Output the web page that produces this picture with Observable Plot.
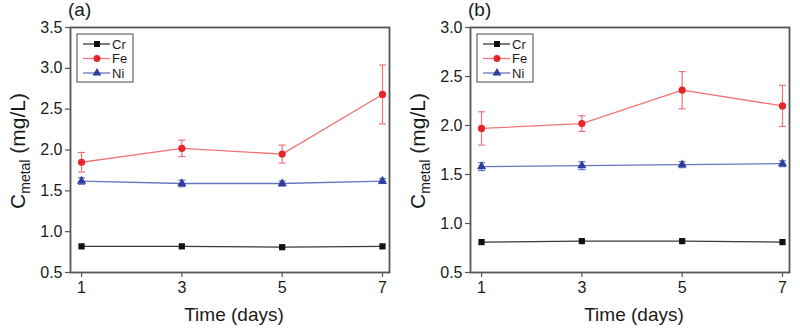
<!DOCTYPE html>
<html><head><meta charset="utf-8">
<script src="https://cdn.jsdelivr.net/npm/d3@7"></script>
<script src="https://cdn.jsdelivr.net/npm/@observablehq/plot@0.6"></script>
<style>
body{margin:0;background:#fff;}
#wrap{display:flex;width:800px;height:334px;}
#wrap svg{display:block;}
</style></head><body><div id="wrap"></div>
<script>
const days = [1, 3, 5, 7];
const metals = ["Cr", "Fe", "Ni"];
const panelLabels = ["(a)", "(b)"];
const xTicks = [1, 3, 5, 7];
const aTicks = [0.5, 1.0, 1.5, 2.0, 2.5, 3.0, 3.5];
const bTicks = [0.5, 1.0, 1.5, 2.0, 2.5, 3.0];

const a_Cr = [0.82, 0.82, 0.81, 0.82];
const a_CrErr = [0, 0, 0, 0];
const a_Fe = [1.85, 2.02, 1.95, 2.68];
const a_FeErr = [0.12, 0.10, 0.11, 0.36];
const a_Ni = [1.62, 1.59, 1.59, 1.62];
const a_NiErr = [0.04, 0.04, 0.03, 0.03];

const b_Cr = [0.81, 0.82, 0.82, 0.81];
const b_CrErr = [0, 0, 0, 0];
const b_Fe = [1.97, 2.02, 2.36, 2.20];
const b_FeErr = [0.17, 0.08, 0.19, 0.21];
const b_Ni = [1.58, 1.59, 1.60, 1.61];
const b_NiErr = [0.04, 0.04, 0.03, 0.03];

const style = {
  Cr: {mark: "#111111", line: "#3a3a3a", symbol: "square", r: 3.5},
  Fe: {mark: "#e8242a", line: "#f07474", symbol: "circle", r: 3.6},
  Ni: {mark: "#2c3f9e", line: "#6675c2", symbol: "triangle", r: 3.4}
};

const capSymbol = {draw(ctx, size) { ctx.moveTo(-3.5, 0); ctx.lineTo(3.5, 0); }};

function rows(vals, errs) {
  const out = [];
  metals.forEach((m, i) => days.forEach((d, j) => out.push({metal: m, day: d, v: vals[i][j], e: errs[i][j]})));
  return out;
}

const FONT = "'Liberation Sans', Arial, sans-serif";

function panel(data, yDomain, yTicks, label) {
  const err = data.filter(d => d.e > 0);
  const plot = Plot.plot({
    width: 400, height: 334,
    marginLeft: 70, marginRight: 11, marginTop: 27, marginBottom: 62,
    style: {fontFamily: FONT, fontSize: "16px", color: "#1a1a1a", background: "#fff"},
    x: {domain: [0.78, 7.14], ticks: xTicks, tickFormat: d => d, tickSize: 5, tickPadding: 4, label: null},
    y: {domain: yDomain, ticks: yTicks, tickFormat: d3.format(".1f"), tickSize: 5, tickPadding: 3, label: null},
    marks: [
      Plot.ruleX(err, {x: "day", y1: d => d.v - d.e, y2: d => d.v + d.e, stroke: d => style[d.metal].line, strokeWidth: 1.2}),
      Plot.dot(err, {x: "day", y: d => d.v + d.e, symbol: capSymbol, stroke: d => style[d.metal].line, strokeWidth: 1.2}),
      Plot.dot(err, {x: "day", y: d => d.v - d.e, symbol: capSymbol, stroke: d => style[d.metal].line, strokeWidth: 1.2}),
      ...metals.map(m => Plot.line(data.filter(d => d.metal === m), {x: "day", y: "v", stroke: style[m].line, strokeWidth: 1.3})),
      ...metals.map(m => Plot.dot(data.filter(d => d.metal === m), {x: "day", y: "v", symbol: style[m].symbol, r: style[m].r, fill: style[m].mark, stroke: "none"})),
      Plot.frame({stroke: "#555", strokeWidth: 1.8})
    ]
  });
  const svg = d3.select(plot);
  svg.selectAll("[aria-label='x-axis tick'] path, [aria-label='y-axis tick'] path").attr("stroke", "#555").attr("stroke-width", 1.2);
  const txt = (x, y, size, anchor, s) => svg.append("text").attr("x", x).attr("y", y).attr("font-size", size)
    .attr("font-family", FONT).attr("fill", "#1a1a1a").attr("text-anchor", anchor).text(s);
  // panel label
  txt(68, 16, 19, "start", label);
  // x label
  txt(234, 321, 19, "middle", "Time (days)");
  // y label
  const yl = svg.append("text").attr("transform", "translate(25,151) rotate(-90)").attr("text-anchor", "middle")
    .attr("font-family", FONT).attr("fill", "#1a1a1a").attr("font-size", 21);
  yl.append("tspan").text("C");
  yl.append("tspan").attr("font-size", 14).attr("dy", 5).text("metal");
  yl.append("tspan").attr("dy", -5).text(" (mg/L)");
  // legend
  const lg = svg.append("g").attr("transform", "translate(77,34)");
  lg.append("rect").attr("width", 56).attr("height", 48).attr("fill", "#fff").attr("stroke", "#666").attr("stroke-width", 1.2);
  metals.forEach((m, i) => {
    const yy = 10 + i * 14.5;
    lg.append("line").attr("x1", 6).attr("x2", 33).attr("y1", yy).attr("y2", yy).attr("stroke", style[m].line).attr("stroke-width", 1.3);
    const sym = d3.symbol().type(m === "Cr" ? d3.symbolSquare : m === "Fe" ? d3.symbolCircle : d3.symbolTriangle).size(m === "Ni" ? 34 : 36);
    lg.append("path").attr("d", sym()).attr("transform", `translate(20,${yy})`).attr("fill", style[m].mark);
    lg.append("text").attr("x", 35).attr("y", yy + 4.5).attr("font-size", 13).attr("font-family", FONT)
      .attr("fill", "#1a1a1a").attr("text-anchor", "start").text(m);
  });
  return plot;
}

const wrap = document.getElementById("wrap");
wrap.append(panel(rows([a_Cr, a_Fe, a_Ni], [a_CrErr, a_FeErr, a_NiErr]), [0.5, 3.5], aTicks, panelLabels[0]));
wrap.append(panel(rows([b_Cr, b_Fe, b_Ni], [b_CrErr, b_FeErr, b_NiErr]), [0.5, 3.0], bTicks, panelLabels[1]));
</script></body></html>
